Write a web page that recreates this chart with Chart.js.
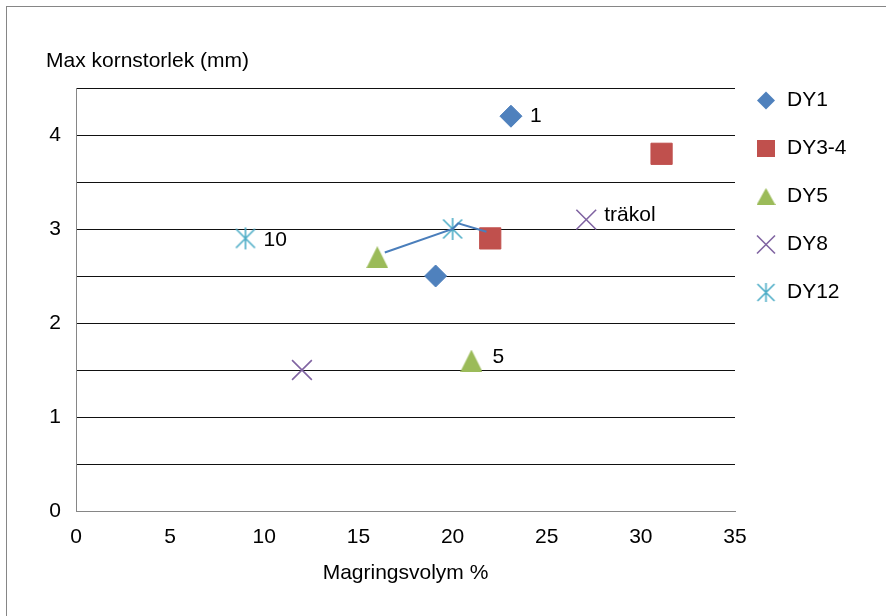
<!DOCTYPE html>
<html>
<head>
<meta charset="utf-8">
<script src="https://cdn.jsdelivr.net/npm/chart.js@4.4.1/dist/chart.umd.min.js"></script>
<style>
  html, body { margin: 0; padding: 0; background: #ffffff; }
  #wrap { width: 886px; height: 616px; position: relative; }
</style>
</head>
<body>
<div id="wrap"><canvas id="c" width="886" height="616"></canvas></div>
<script>
// Series values: magringsvolym (%) on x, max kornstorlek (mm) on y
const seriesNames = ['DY1', 'DY3-4', 'DY5', 'DY8', 'DY12'];
const dy1X  = [23.1, 19.1];  const dy1Y  = [4.2, 2.5];
const dy34X = [31.1, 22.0];  const dy34Y = [3.8, 2.9];
const dy5X  = [16.0, 21.0];  const dy5Y  = [2.7, 1.6];
const dy8X  = [12.0, 27.1];  const dy8Y  = [1.5, 3.1];
const dy12X = [9.0, 20.0];   const dy12Y = [2.9, 3.0];

// Point annotations (empty = no label)
const dy1Labels  = ['1', ''];
const dy34Labels = ['', ''];
const dy5Labels  = ['', '5'];
const dy8Labels  = ['', 'träkol'];
const dy12Labels = ['10', ''];

// Hand-drawn connector between DY5, DY12 and DY3-4 samples
const connectorX = [16.4, 20.0, 20.3, 21.8];
const connectorY = [2.75, 3.0, 3.06, 2.97];

// Axis setup
const xTickValues = [0, 5, 10, 15, 20, 25, 30, 35];
const yTickLabels = [0, 1, 2, 3, 4];
const xTitle = 'Magringsvolym %';
const yTitle = 'Max kornstorlek (mm)';

const FONT = "'Liberation Sans', Arial, sans-serif";
const COLORS = ['#4f81bd', '#c0504d', '#9bbb59', '#8064a2', '#4bacc6'];

function toPoints(xs, ys) { return xs.map((x, i) => ({ x: x, y: ys[i] })); }

// Asterisk marker: an X with a vertical stroke
function makeStar(halfX, halfV, color, lw) {
  const s = Math.ceil(Math.max(halfX, halfV) * 2 + 4);
  const c = document.createElement('canvas');
  c.width = s; c.height = s;
  const g = c.getContext('2d');
  const m = s / 2;
  g.strokeStyle = color; g.lineWidth = lw; g.lineCap = 'butt';
  g.beginPath();
  g.moveTo(m - halfX, m - halfX); g.lineTo(m + halfX, m + halfX);
  g.moveTo(m + halfX, m - halfX); g.lineTo(m - halfX, m + halfX);
  g.moveTo(m, m - halfV); g.lineTo(m, m + halfV);
  g.stroke();
  return c;
}

// Triangle marker centred on its bounding box
function makeTriangle(w, h, color) {
  const c = document.createElement('canvas');
  c.width = Math.ceil(w); c.height = Math.ceil(h);
  const g = c.getContext('2d');
  g.fillStyle = color;
  g.beginPath();
  g.moveTo(w / 2, 0); g.lineTo(w, h); g.lineTo(0, h);
  g.closePath(); g.fill();
  return c;
}

const starMarker = makeStar(9.5, 11, COLORS[4], 1.6);
const starLegend = makeStar(8.5, 9.5, COLORS[4], 1.6);
const triMarker = makeTriangle(22, 22, COLORS[2]);
const triLegend = makeTriangle(19, 17, COLORS[2]);

const pointLabels = [dy1Labels, dy34Labels, dy5Labels, dy8Labels, dy12Labels];
const labelOffsets = { '1': [19, 0], '5': [21, -3], '10': [18, 2], 'träkol': [18, -4] };

const decorPlugin = {
  id: 'decor',
  beforeDraw(chart) {
    const ctx = chart.ctx;
    ctx.save();
    ctx.fillStyle = '#ffffff';
    ctx.fillRect(0, 0, chart.width, chart.height);
    ctx.strokeStyle = '#868686';
    ctx.lineWidth = 1;
    ctx.strokeRect(6.5, 6.5, chart.width + 10, chart.height + 10);
    ctx.restore();
  },
  afterDraw(chart) {
    const ctx = chart.ctx;
    const area = chart.chartArea;
    ctx.save();
    ctx.fillStyle = '#000000';
    ctx.font = '21px ' + FONT;
    ctx.textBaseline = 'middle';
    ctx.textAlign = 'left';
    // value-axis title, horizontal above the plot
    ctx.fillText(yTitle, 46, 61);

    // point annotations
    pointLabels.forEach((labels, di) => {
      const meta = chart.getDatasetMeta(di);
      labels.forEach((txt, i) => {
        if (!txt) return;
        const el = meta.data[i];
        const off = labelOffsets[txt] || [18, 0];
        ctx.fillText(txt, el.x + off[0], el.y + off[1]);
      });
    });

    // legend
    const lx = area.right + 31;
    const tx = area.right + 52;
    const y0 = area.top + 12.5;
    const step = 48;
    seriesNames.forEach((name, i) => {
      const cy = y0 + i * step;
      ctx.fillStyle = COLORS[i];
      ctx.strokeStyle = COLORS[i];
      if (i === 0) {
        ctx.beginPath();
        ctx.moveTo(lx, cy - 9); ctx.lineTo(lx + 9, cy); ctx.lineTo(lx, cy + 9); ctx.lineTo(lx - 9, cy);
        ctx.closePath(); ctx.fill();
      } else if (i === 1) {
        ctx.fillRect(lx - 9, cy - 8.5, 18, 17);
      } else if (i === 2) {
        ctx.drawImage(triLegend, lx - triLegend.width / 2, cy - triLegend.height / 2);
      } else if (i === 3) {
        ctx.lineWidth = 1.6;
        ctx.beginPath();
        ctx.moveTo(lx - 9, cy - 9); ctx.lineTo(lx + 9, cy + 9);
        ctx.moveTo(lx + 9, cy - 9); ctx.lineTo(lx - 9, cy + 9);
        ctx.stroke();
      } else {
        ctx.drawImage(starLegend, lx - starLegend.width / 2, cy - starLegend.height / 2);
      }
      ctx.fillStyle = '#000000';
      ctx.fillText(name, tx, cy);
    });
    ctx.restore();
  }
};

const datasets = [
  { label: seriesNames[0], data: toPoints(dy1X, dy1Y), pointStyle: 'rectRot', pointRadius: 11,
    backgroundColor: COLORS[0], borderColor: COLORS[0], borderWidth: 1, order: 2 },
  { label: seriesNames[1], data: toPoints(dy34X, dy34Y), pointStyle: 'rect', pointRadius: 15,
    backgroundColor: COLORS[1], borderColor: COLORS[1], borderWidth: 1, order: 2 },
  { label: seriesNames[2], data: toPoints(dy5X, dy5Y), pointStyle: triMarker, pointRadius: 11,
    backgroundColor: COLORS[2], borderColor: COLORS[2], borderWidth: 1, order: 2 },
  { label: seriesNames[3], data: toPoints(dy8X, dy8Y), pointStyle: 'crossRot', pointRadius: 14,
    backgroundColor: COLORS[3], borderColor: COLORS[3], borderWidth: 1.6, order: 2 },
  { label: seriesNames[4], data: toPoints(dy12X, dy12Y), pointStyle: starMarker, pointRadius: 11,
    backgroundColor: COLORS[4], borderColor: COLORS[4], borderWidth: 1.6, order: 2 },
  { label: 'connector', data: toPoints(connectorX, connectorY), showLine: true, pointRadius: 0,
    borderColor: '#4a7ebb', borderWidth: 2, fill: false, tension: 0, order: 1 }
];

new Chart(document.getElementById('c'), {
  type: 'scatter',
  data: { datasets: datasets },
  options: {
    responsive: false,
    animation: false,
    devicePixelRatio: 1,
    layout: { padding: { top: 88, right: 151, left: 0, bottom: 0 } },
    plugins: {
      legend: { display: false },
      tooltip: { enabled: false },
      title: { display: false }
    },
    scales: {
      x: {
        type: 'linear',
        min: 0, max: 35,
        afterBuildTicks(scale) { scale.ticks = xTickValues.map(v => ({ value: v })); },
        afterFit(scale) { scale.height = 105; },
        grid: { display: false, drawTicks: false },
        border: { display: true, color: '#868686', width: 1 },
        ticks: { padding: 14, color: '#000000', font: { family: FONT, size: 21 }, maxRotation: 0 },
        title: { display: true, text: xTitle, color: '#000000',
                 font: { family: FONT, size: 21 }, padding: { top: 0, bottom: 30 } }
      },
      y: {
        type: 'linear',
        min: 0, max: 4.5,
        ticks: {
          stepSize: 0.5,
          padding: 15,
          color: '#000000',
          font: { family: FONT, size: 21 },
          callback: (v) => (yTickLabels.includes(v) ? String(v) : '')
        },
        afterFit(scale) { scale.width = 76; },
        grid: {
          drawTicks: false,
          color: (c) => (c.tick && c.tick.value === 0 ? '#868686' : '#111111'),
          lineWidth: 1
        },
        border: { display: true, color: '#868686', width: 1 }
      }
    }
  },
  plugins: [decorPlugin]
});
</script>
</body>
</html>
